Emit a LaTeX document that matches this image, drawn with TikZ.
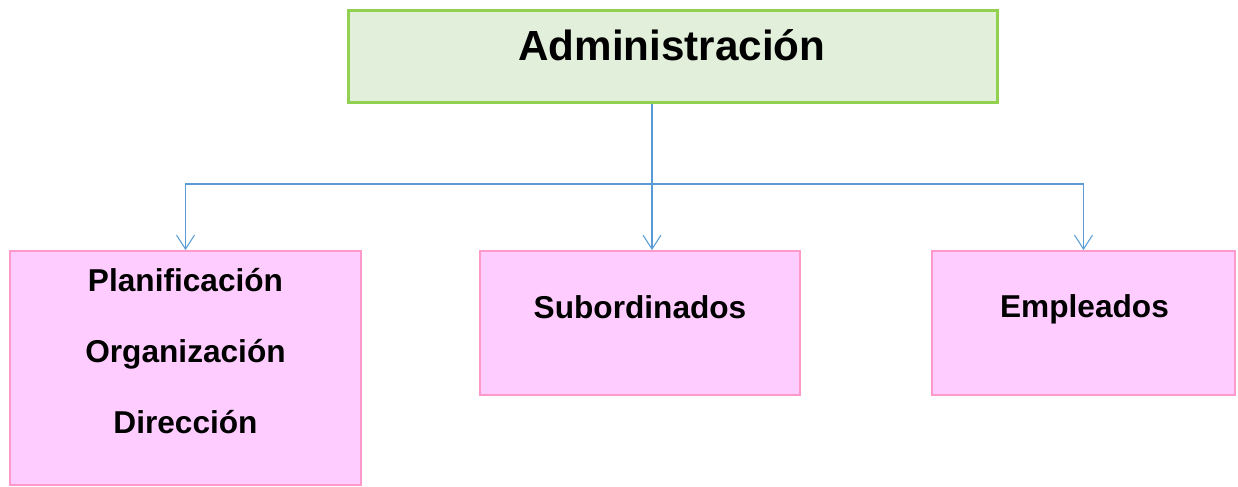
\documentclass[tikz,border=0pt]{standalone}
\usepackage{fontspec}
\setmainfont{Liberation Sans}
\usetikzlibrary{arrows.meta}

\definecolor{verdeborde}{HTML}{92D050}
\definecolor{verdefondo}{HTML}{E2EFDA}
\definecolor{rosaborde}{HTML}{FF99CC}
\definecolor{rosafondo}{HTML}{FFCCFF}
\definecolor{azullinea}{HTML}{5B9BD5}

\tikzset{
    cabeza/.style = { draw = verdeborde, fill = verdefondo, line width = 1.7pt },
    caja/.style = { draw = rosaborde, fill = rosafondo, line width = 1.1pt },
    texto/.style = { font = \bfseries\fontsize{18}{40.5}\selectfont, align = center, inner sep = 0 },
    flecha/.style = { draw = azullinea, line width = 0.6pt, -{Straight Barb[length=2.8mm,width=3.6mm]} }
}

\begin{document}
\begin{tikzpicture}[x = 0.02cm, y = -0.02cm]
        \useasboundingbox ( 0, 0 ) rectangle ( 1238, 487 );

        % cuadro superior
        \node [ cabeza, minimum width = 12.98cm, minimum height = 1.84cm ] (admin) at ( 673, 56.5 ) {};
        \node [ texto, font = \bfseries\fontsize{24}{28}\selectfont ] (admintxt) at ( 672, 45 ) {Administración};

        % cuadros inferiores
        \node [ caja, minimum width = 7.02cm, minimum height = 4.68cm ] (plan) at ( 185.5, 368 ) {};
        \node [ caja, minimum width = 6.4cm, minimum height = 2.88cm ] (sub) at ( 640, 323 ) {};
        \node [ caja, minimum width = 6.06cm, minimum height = 2.88cm ] (emp) at ( 1083.5, 323 ) {};

        % textos
        \node [ texto, anchor = north ] (plantxt) at ( 185.5, 268 ) {Planificación\\Organización\\Dirección};
        \node [ texto ] (subtxt) at ( 640, 307 ) {Subordinados};
        \node [ texto ] (emptxt) at ( 1084.5, 309.5 ) {Empleados};

        % conectores
        \coordinate (rama) at ( 652, 184 );
        \draw [ flecha ] (admin.south -| rama) -- (sub.north -| rama);
        \draw [ flecha ] (rama) -- (rama -| plan.north) -- (plan.north);
        \draw [ flecha ] (rama) -- (rama -| emp.north) -- (emp.north);
        \draw [ azullinea, line width = 1.1pt ] ( 674, 184 ) -- (rama -| emp.north);
    \end{tikzpicture}
\end{document}
